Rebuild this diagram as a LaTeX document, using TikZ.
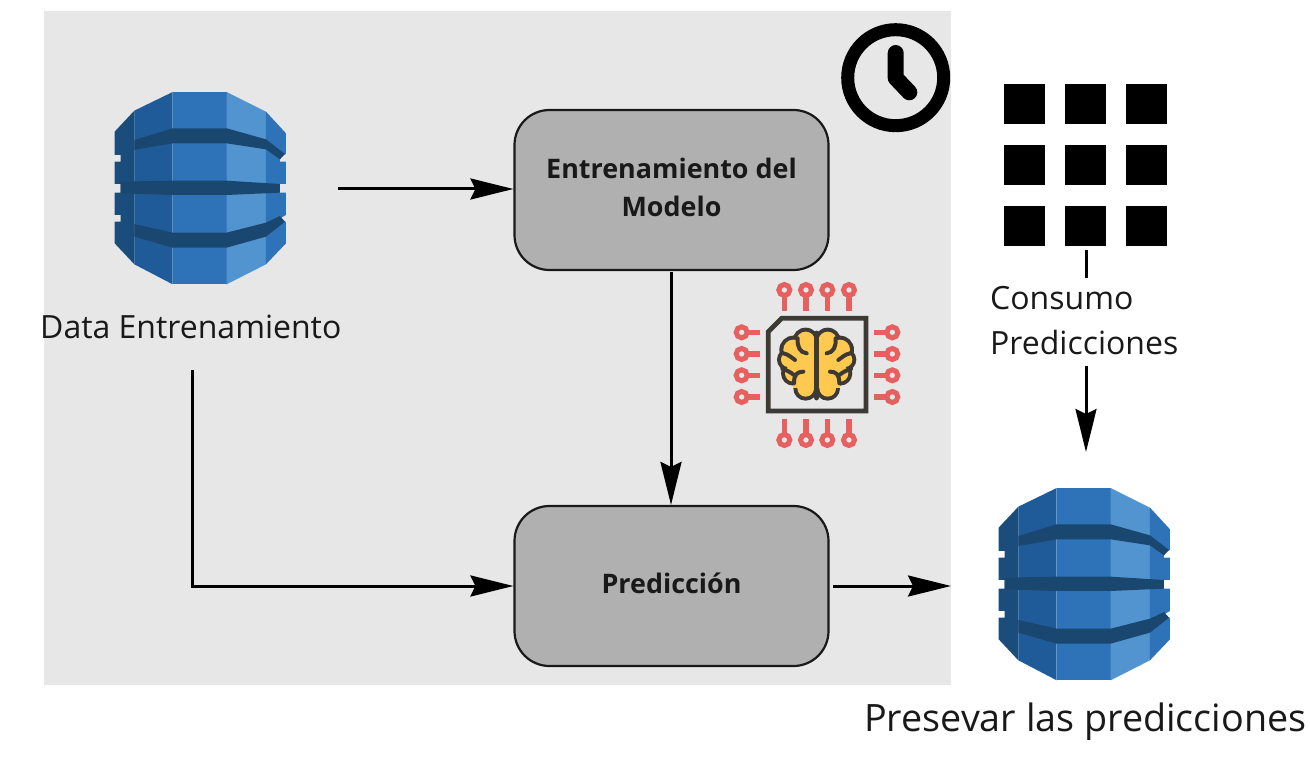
\documentclass[tikz,border=0pt]{standalone}
\usepackage{fontspec}
\setmainfont{Open Sans}
\usetikzlibrary{arrows.meta}
\definecolor{bgg}{HTML}{E7E7E7}
\definecolor{boxg}{HTML}{B0B0B0}
\definecolor{dbmid}{HTML}{2E73B8}
\definecolor{dblight}{HTML}{5294CF}
\definecolor{dbdark}{HTML}{205B99}
\definecolor{dbband}{HTML}{1A476F}
\definecolor{dbfar}{HTML}{1B4D7C}
\definecolor{pinred}{HTML}{E5605F}
\definecolor{chipd}{HTML}{3D3935}
\definecolor{brainy}{HTML}{FFC84F}
\tikzset{
  x=1pt,y=-1pt,
  flowbox/.style={draw=black!90,fill=boxg,line width=2.2pt,rounded corners=35pt,minimum width=314pt,minimum height=160pt,inner sep=0pt,align=center,text=black!90,text depth=6pt,font=\fontsize{26.9}{38}\selectfont\bfseries},
  lbl/.style={anchor=base west,inner sep=0pt,text=black!90,font=\fontsize{#1}{#1}\selectfont},
  flow/.style={line width=3pt,-{Stealth[length=43pt,width=21pt,inset=5pt]}},
  pin/.style={line width=5.3pt,pinred},
  ring/.style={draw=pinred,line width=5pt,fill=bgg},
  fold/.style={chipd,line width=4pt,line cap=round,line join=round},
  sq/.style={fill=black},
}
\newcommand{\dbicon}[2]{%
\begin{scope}[shift={(#1,#2)},x=0.3333pt,y=-0.3333pt]
 \fill[dbmid] (218,36)--(380,36)--(380,613)--(218,613)--cycle;
 \fill[dbdark] (103,92)--(218,36)--(218,613)--(103,553)--cycle;
 \fill[dblight] (380,36)--(498,95)--(498,553)--(380,613)--cycle;
 \fill[dbfar] (103,92)--(44,155)--(44,225)--(62,225)--(62,245)--(44,245)--(44,312)--(62,312)--(62,338)--(44,338)--(44,405)--(62,405)--(62,425)--(44,425)--(44,490)--(103,553)--cycle;
 \fill[dbmid] (498,95)--(558,160)--(558,222)--(540,228)--(540,245)--(558,245)--(558,312)--(540,312)--(540,338)--(558,338)--(558,405)--(540,415)--(540,425)--(558,425)--(558,490)--(498,553)--cycle;
 \fill[dbband] (103,180)--(218,145)--(380,145)--(498,178)--(555,222)--(540,238)--(498,208)--(380,190)--(218,190)--(103,210)--cycle;
 \fill[dbband] (62,305)--(218,302)--(380,302)--(540,312)--(540,338)--(380,345)--(218,345)--(62,340)--cycle;
 \fill[dbband] (103,432)--(218,458)--(380,458)--(498,428)--(540,408)--(555,425)--(498,470)--(380,503)--(218,503)--(103,470)--cycle;
\end{scope}}
\begin{document}
\begin{tikzpicture}
\useasboundingbox (0,0) rectangle (1310,762);
\fill[bgg] (44,11) rectangle (951,685);
% clock
\draw[line width=13pt] (895.7,77.7) circle (48);
\draw[line width=16pt,line cap=round,line join=round] (895.7,53)--(895.7,78)--(909.3,92.3);
% grid
\foreach \gx in {1004,1065,1126}\foreach \gy in {84,145,206}
  \fill[sq] (\gx,\gy) rectangle ++(41,40.5);
% db icons
\dbicon{100}{80}
\dbicon{984}{476}
% chip
\begin{scope}[shift={(725,275)},x=0.3333pt,y=-0.3333pt]
 \foreach \p in {178,243,307,372}{
   \draw[pin] (\p,45)--(\p,108);
   \draw[pin] (\p,495)--(\p,432);
   \draw[ring] (\p,45) circle (16.5);
   \draw[ring] (\p,495) circle (16.5);}
 \foreach \p in {172,237,301,366}{
   \draw[pin] (50,\p)--(106,\p);
   \draw[pin] (502,\p)--(446,\p);
   \draw[ring] (50,\p) circle (16.5);
   \draw[ring] (502,\p) circle (16.5);}
 \draw[chipd,line width=4.7pt,miter limit=10] (170,130)--(423,130)--(423,408)--(130,408)--(130,170)--cycle;
 \foreach \m/\s in {0/1,550/-1}{
  \begin{scope}[shift={(\m,0)},x=\s*0.3333pt]
   \foreach \cx/\cy/\r in {242/198/28,205/224/30,190/254/22,205/295/25,242/340/25}
     \fill[chipd] (\cx,\cy) circle (\r+12);
  \end{scope}}
 \foreach \m/\s in {0/1,550/-1}{
  \begin{scope}[shift={(\m,0)},x=\s*0.3333pt]
   \foreach \cx/\cy/\r in {242/198/28,205/224/30,190/254/22,205/295/25,242/340/25}
     \fill[brainy] (\cx,\cy) circle (\r);
   \fill[brainy] (205,210) rectangle (268,340);
   \draw[fold] (218,190) .. controls (216,215) and (225,233) .. (245,235);
   \draw[fold] (175,235) .. controls (190,238) and (200,248) .. (210,255);
   \draw[fold] (235,290) .. controls (215,290) and (207,300) .. (207,325);
   \draw[fold] (172,282) .. controls (185,285) and (197,292) .. (207,300);
  \end{scope}}
 \draw[chipd,line width=5.5pt,line cap=round] (275,175)--(275,368);
\end{scope}
% boxes
\node[flowbox] (train) at (671.5,190) {Entrenamiento del\\Modelo};
\node[flowbox] (pred) at (671.5,586) {Predicción};
% labels
\node[lbl=32] (ldata) at (40,338) {Data Entrenamiento};
\node[lbl=32] (lcons1) at (990,309) {Consumo};
\node[lbl=32] (lcons2) at (990,354) {Predicciones};
\node[lbl=37.7] (lpres) at (864,731) {Presevar las predicciones};
% connector ends
\coordinate (a1) at (338,189);
\coordinate (a2) at (671,272);
\coordinate (a3) at (192,370);
\coordinate (a4) at (833,586);
\coordinate (a5) at (951,586);
\coordinate (a6) at (1086,366);
\coordinate (a7) at (1086,452);
\coordinate (a8) at (1086,250);
\coordinate (a9) at (1086,278);
\draw[flow] (a1) -- (a1-|train.west);
\draw[flow] (a2) -- (a2|-pred.north);
\draw[flow] (a3) |- (pred.west);
\draw[flow] (a4) -- (a5);
\draw[flow] (a6) -- (a7);
\draw[line width=3pt] (a8) -- (a9);
\end{tikzpicture}
\end{document}
